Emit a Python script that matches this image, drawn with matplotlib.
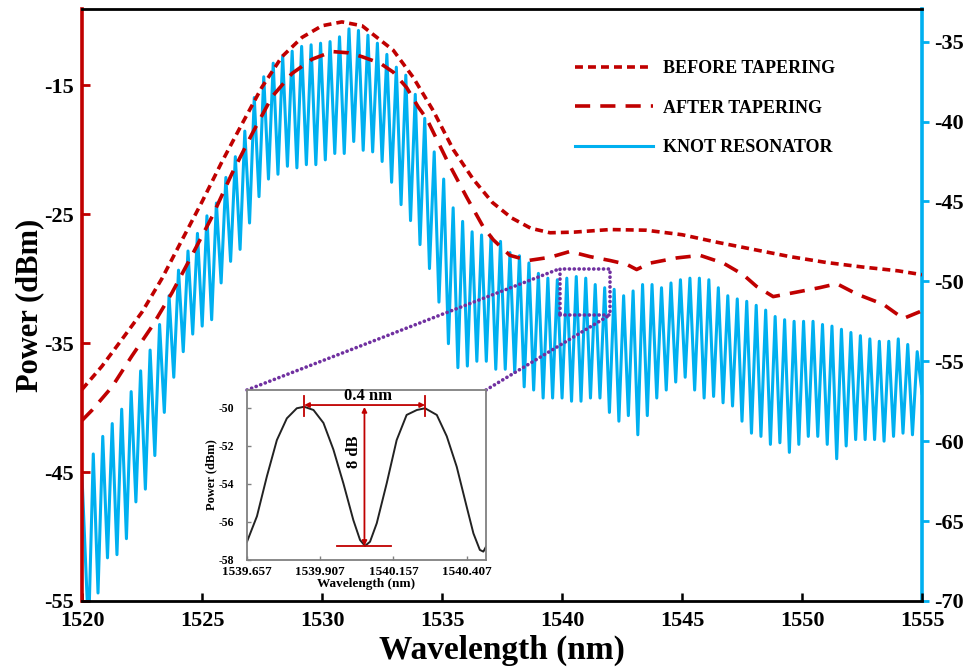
import numpy as np
import matplotlib
matplotlib.use("Agg")
import matplotlib.pyplot as plt
from matplotlib.patches import Rectangle, ConnectionPatch

plt.rcParams['font.family'] = ['Liberation Serif', 'DejaVu Serif']
plt.rcParams['font.weight'] = 'bold'
plt.rcParams['axes.labelweight'] = 'bold'
plt.rcParams['axes.unicode_minus'] = False

RED = '#c00000'
CYAN = '#00b0f0'
PURPLE = '#7030a0'

# before tapering, left axis (dBm)
before_wl = [1520.0, 1520.83, 1521.67, 1522.5, 1523.33, 1524.17, 1525.0, 1525.83, 1526.67,
             1527.5, 1528.33, 1529.17, 1530.0, 1530.83, 1531.67, 1532.97, 1533.8, 1534.64,
             1535.47, 1536.3, 1537.1, 1537.9, 1538.7, 1539.5, 1540.5, 1542.0, 1543.5, 1545.0,
             1546.5, 1548.0, 1549.5, 1551.0, 1552.5, 1554.0, 1555.0]
before_dbm = [-38.6, -36.8, -34.7, -32.6, -30.0, -27.0, -24.05, -20.95, -18.0,
              -15.15, -12.8, -11.3, -10.4, -10.1, -10.4, -12.3, -14.4, -17.0,
              -20.0, -22.3, -24.1, -25.3, -26.1, -26.45, -26.4, -26.2, -26.25, -26.6,
              -27.2, -27.75, -28.3, -28.75, -29.1, -29.4, -29.7]

# after tapering, left axis (dBm)
after_wl = [1520.0, 1520.42, 1521.25, 1522.08, 1522.92, 1523.75, 1524.58, 1525.42, 1526.25,
            1527.08, 1527.92, 1528.75, 1529.58, 1530.42, 1531.11, 1531.67, 1532.42, 1532.97,
            1533.53, 1534.01, 1534.36, 1535.2, 1536.03, 1536.72, 1537.14, 1537.83, 1538.6,
            1539.5, 1540.33, 1541.17, 1542.0, 1542.7, 1543.11, 1543.67, 1544.78, 1545.75,
            1546.72, 1547.55, 1548.1, 1548.8, 1549.92, 1550.75, 1551.45, 1552.28, 1553.39,
            1554.22, 1555.0]
after_dbm = [-41.0, -40.2, -38.4, -36.0, -33.7, -31.1, -28.2, -25.2, -21.85,
             -18.8, -15.9, -14.1, -13.0, -12.4, -12.5, -12.8, -13.3, -14.0,
             -15.2, -16.7, -17.6, -20.8, -23.7, -26.0, -27.0, -28.2, -28.6,
             -28.35, -27.9, -28.3, -28.6, -28.9, -29.3, -28.8, -28.4, -28.2,
             -28.8, -29.7, -30.6, -31.4, -31.0, -30.7, -30.4, -31.2, -32.0,
             -33.1, -32.5]

# knot resonator, right axis: one peak and one dip per fringe (FSR ~0.4 nm)
fringe_first = 1520.47
fringe_fsr = 0.3946
knot_peaks = [-60.8, -59.7, -58.9, -58.0, -56.9, -55.6, -54.3, -52.7, -50.9, -49.3,
              -48.1, -47.0, -45.9, -45.1, -43.5, -42.2, -40.6, -38.5, -37.2, -36.35,
              -35.9, -35.6, -35.3, -35.2, -35.1, -35.0, -34.7, -34.2, -34.3, -34.6,
              -35.1, -35.8, -36.6, -37.1, -38.3, -39.8, -41.9, -43.6, -45.4, -46.25,
              -46.9, -47.1, -47.2, -47.5, -48.2, -48.4, -48.85, -49.5, -49.8, -49.9,
              -49.8, -49.7, -49.8, -50.2, -50.4, -50.5, -50.9, -50.6, -50.2, -50.2,
              -50.4, -50.1, -49.9, -49.8, -49.8, -49.9, -50.4, -50.9, -51.1, -51.25,
              -51.5, -51.8, -52.2, -52.4, -52.5, -52.5, -52.5, -52.7, -52.8, -53.0,
              -53.2, -53.4, -53.6, -53.75, -53.75, -53.6, -53.95, -54.4]
knot_dips = [-72.0, -69.5, -67.3, -67.1, -66.1, -63.8, -63.0, -60.9, -58.2, -56.0,
             -54.4, -53.3, -52.8, -52.4, -50.1, -48.75, -48.0, -46.35, -44.7, -43.6,
             -43.3, -42.8, -42.9, -42.7, -42.7, -42.4, -42.0, -42.0, -41.25, -41.8,
             -41.9, -42.5, -43.8, -45.2, -46.2, -47.7, -49.2, -51.3, -53.9, -55.4,
             -55.3, -55.0, -55.0, -55.5, -55.5, -55.7, -56.6, -56.8, -57.3, -57.3,
             -57.3, -57.5, -57.5, -57.3, -57.3, -58.2, -58.75, -58.4, -59.6, -58.4,
             -57.3, -56.8, -56.3, -56.0, -56.8, -57.3, -57.2, -57.6, -57.8, -58.75,
             -59.5, -59.7, -60.2, -60.1, -60.7, -60.2, -59.7, -59.7, -60.2, -61.1,
             -60.3, -59.9, -59.9, -59.9, -60.0, -59.7, -59.5, -59.6]
knot_start = -62.2
knot_end = -57.0

# inset: zoom of two fringes
inset_wl = [1539.657, 1539.691, 1539.725, 1539.759, 1539.793, 1539.827, 1539.852, 1539.884,
            1539.918, 1539.952, 1539.986, 1540.020, 1540.043, 1540.060, 1540.077, 1540.100,
            1540.134, 1540.168, 1540.202, 1540.237, 1540.265, 1540.305, 1540.339, 1540.373,
            1540.407, 1540.430, 1540.452, 1540.464, 1540.473]
inset_dbm = [-57.04, -55.7, -53.6, -51.7, -50.56, -50.03, -49.95, -50.12,
             -50.8, -52.2, -53.97, -55.9, -56.95, -57.26, -57.04, -56.07,
             -53.97, -51.7, -50.38, -50.12, -50.03, -50.38, -51.5, -53.1,
             -55.2, -56.6, -57.47, -57.56, -57.3]
inset_xticks = [1539.657, 1539.907, 1540.157, 1540.407]
peak1_wl, peak2_wl, dip_wl = 1539.852, 1540.265, 1540.058
peak_dbm, dip_dbm = -49.86, -57.26

# build the fringe trace
peaks_wl = fringe_first + fringe_fsr * np.arange(len(knot_peaks))
dips_wl = peaks_wl - fringe_fsr / 2
knot_wl = np.empty(2 * len(knot_peaks))
knot_db = np.empty(2 * len(knot_peaks))
knot_wl[0::2], knot_wl[1::2] = dips_wl, peaks_wl
knot_db[0::2], knot_db[1::2] = knot_dips, knot_peaks
knot_wl = np.concatenate([[1520.0], knot_wl, [1555.0]])
knot_db = np.concatenate([[knot_start], knot_db, [knot_end]])

fig = plt.figure(figsize=(9.73, 6.68), dpi=100)
ax = fig.add_axes([82 / 973, 1 - 601 / 668, 840 / 973, 592 / 668])
ax2 = ax.twinx()
ax.set_zorder(ax2.get_zorder() + 1)
ax.patch.set_visible(False)

l_knot, = ax2.plot(knot_wl, knot_db, color=CYAN, lw=2.2, solid_joinstyle='round')
l_before, = ax.plot(before_wl, before_dbm, color=RED, lw=2.6, dashes=(2.2, 1.4))
l_after, = ax.plot(after_wl, after_dbm, color=RED, lw=2.6, dashes=(4.2, 2.8))

ax.set_xlim(1520, 1555)
ax.set_ylim(-55, -9.1)
ax2.set_ylim(-70, -32.96)
ax.set_xticks(np.arange(1520, 1556, 5))
ax.set_yticks([-55, -45, -35, -25, -15])
ax2.set_yticks(np.arange(-70, -34, 5))

for s in ['top', 'bottom']:
    ax.spines[s].set_linewidth(2)
ax.spines['left'].set_color(RED)
ax.spines['left'].set_linewidth(2.6)
ax.spines['right'].set_visible(False)
ax2.spines['left'].set_visible(False)
ax2.spines['top'].set_visible(False)
ax2.spines['bottom'].set_visible(False)
ax2.spines['right'].set_color(CYAN)
ax2.spines['right'].set_linewidth(2.6)

ax.tick_params(axis='y', direction='in', color=RED, length=6, width=2, labelsize=16, pad=6)
ax.tick_params(axis='x', direction='in', length=6, width=1.8, labelsize=16, pad=7)
ax2.tick_params(axis='y', direction='out', color=CYAN, length=5, width=2, labelsize=16, pad=4)

ax.set_xlabel('Wavelength (nm)', fontsize=24, labelpad=3)
ax.set_ylabel('Power (dBm)', fontsize=22, labelpad=0)

fig.legend([l_before, l_after, l_knot], ['BEFORE TAPERING', 'AFTER TAPERING', 'KNOT RESONATOR'],
           loc='upper left', bbox_to_anchor=(575 / 973, 1 - 60 / 668), frameon=False,
           fontsize=13, handlelength=4.3, handletextpad=0.6, labelspacing=1.25,
           borderpad=0, borderaxespad=0)

# inset
axins = fig.add_axes([247 / 973, 1 - 560 / 668, 239 / 973, 170 / 668])
axins.set_zorder(10)
axins.plot(inset_wl, inset_dbm, color='#222222', lw=1.4)
axins.set_xlim(1539.657, 1540.473)
axins.set_ylim(-58, -49.07)
axins.set_xticks(inset_xticks)
axins.set_xticklabels([f'{t:.3f}' for t in inset_xticks])
axins.set_yticks(np.arange(-58, -49, 2))
for s in axins.spines.values():
    s.set_color('#808080')
    s.set_linewidth(1.3)
axins.tick_params(direction='in', length=3, width=1, color='#808080', labelsize=8.5)
axins.tick_params(axis='x', pad=4, labelsize=9.5)
axins.tick_params(axis='y', pad=9)
axins.set_xlabel('Wavelength (nm)', fontsize=9.5, labelpad=0)
axins.set_ylabel('Power (dBm)', fontsize=9, labelpad=1)

arrow = dict(arrowstyle='<|-|>', color=RED, lw=1.3, mutation_scale=7, shrinkA=0, shrinkB=0)
axins.annotate('', xy=(peak1_wl, peak_dbm), xytext=(peak2_wl, peak_dbm), arrowprops=arrow)
axins.annotate('', xy=(dip_wl, peak_dbm - 0.1), xytext=(dip_wl, dip_dbm), arrowprops=arrow)
for w in [peak1_wl, peak2_wl]:
    axins.plot([w, w], [peak_dbm + 0.45, peak_dbm - 0.6], color=RED, lw=1.3)
axins.plot([dip_wl - 0.094, dip_wl + 0.09], [dip_dbm, dip_dbm], color=RED, lw=1.3)
axins.text((peak1_wl + peak2_wl) / 2 + 0.013, peak_dbm + 0.05, '0.4 nm', fontsize=12,
           ha='center', va='bottom')
axins.text(dip_wl - 0.034, -52.3, '8 dB', fontsize=12, rotation=90, ha='center', va='center')

# zoom box and connectors
dots = (0, (0.05, 1.3))
box = Rectangle((1539.92, -52.1), 2.08, 2.9, fill=False, edgecolor=PURPLE,
                lw=2.6, linestyle=dots, zorder=4)
box.set_capstyle('round')
ax2.add_patch(box)
for xa, xb, yb in [(0, 1539.92, -49.2), (1, 1542.0, -52.1)]:
    con = ConnectionPatch(xyA=(xa, 1), coordsA=axins.transAxes, xyB=(xb, yb),
                          coordsB=ax2.transData, color=PURPLE, lw=2.6,
                          linestyle=dots, zorder=5, capstyle='round')
    fig.add_artist(con)

fig.savefig('out.png', dpi=100)
